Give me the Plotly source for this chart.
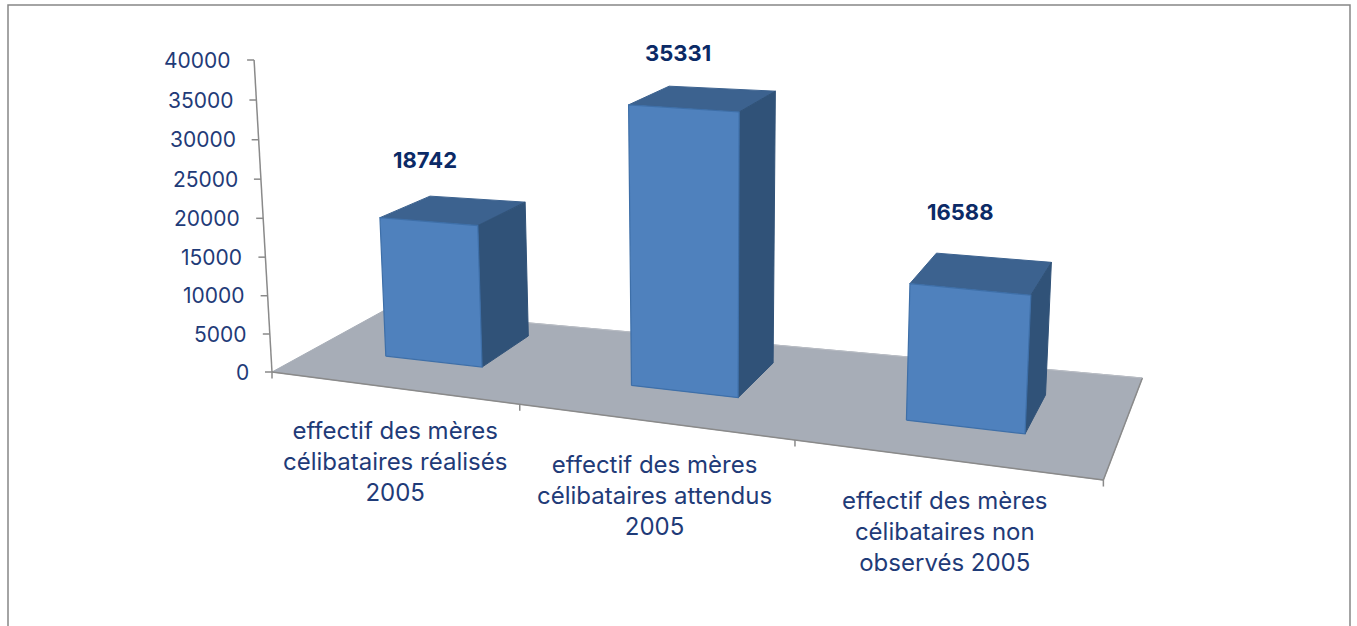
import numpy as np
import plotly.graph_objects as go

# ---- data
categories = ["effectif des mères<br>célibataires réalisés<br>2005",
              "effectif des mères<br>célibataires attendus<br>2005",
              "effectif des mères<br>célibataires non<br>observés 2005"]
values = [18742, 35331, 16588]
y_ticks = [0, 5000, 10000, 15000, 20000, 25000, 30000, 35000, 40000]

# ---- bar footprints on the floor plane (u along categories, w in depth)
u_left = [.121, .484, .803]
u_right = [.273, .616, .918]
w_front = [.360, .345, .314]
w_back = [.817, .775, .719]
bar_gain = [.99, 1.01, 1.0]
x_tick_u = [0.0, .383, .7126, 1.0]

# ---- camera: floor homography + vertical vanishing point
H = np.array([[482.6, 156.9, 272.0], [-43.7, -26.7, 372.0], [-.3161, .1140, 1.0]])
VZ = (710.0, 8000.0)
AXIS_PIXELS = 312.0
AXIS_BOW = .03


def floor(u, w):
    p = H @ np.array([u, w, 1.0])
    return p[0] / p[2], p[1] / p[2]


def bar_scale(u, w):
    return (7.656 + 1.07 * u - .9 * w) * 1e-3


def lift(x, y, h):
    return x + (x - VZ[0]) * h / (VZ[1] - y), y - h


def pt(u, w, v, gain=1.0):
    x, y = floor(u, w)
    return lift(x, y, v * bar_scale(u, w) * gain)


def axis_pt(v):
    x, y = floor(0, 0)
    t = v / y_ticks[-1]
    return lift(x, y, AXIS_PIXELS * t / (1 + AXIS_BOW * (1 - t)))


def poly(points, fill, line, width=1):
    xs = [p[0] for p in points] + [points[0][0]]
    ys = [p[1] for p in points] + [points[0][1]]
    return go.Scatter(x=xs, y=ys, mode="lines", fill="toself", fillcolor=fill,
                      line=dict(color=line, width=width), hoverinfo="skip", showlegend=False)


def seg(a, b, color="#8A8A8A", width=1.5):
    return go.Scatter(x=[a[0], b[0]], y=[a[1], b[1]], mode="lines",
                      line=dict(color=color, width=width), hoverinfo="skip", showlegend=False)


TXT = "#1F3B78"
LBL = "#0B2A66"
FONT = "Inter"
fig = go.Figure()

# floor
fig.add_trace(poly([floor(0, 0), floor(1, 0), floor(1, 1), floor(0, 1)], "#A7ADB7", "#A7ADB7"))
fig.add_trace(seg(floor(0, 0), floor(1, 0)))
fig.add_trace(seg(floor(1, 0), floor(1, 1)))
fig.add_trace(seg(floor(1, 1), floor(0, 1), "#B9BDC4", 1))

# x ticks
for u in x_tick_u:
    x, y = floor(u, 0)
    fig.add_trace(seg((x, y), (x, y + 6.5), width=1.5))

# value axis
fig.add_trace(seg(axis_pt(y_ticks[0]), axis_pt(y_ticks[-1])))
annotations = []
for t in y_ticks:
    x, y = axis_pt(t)
    fig.add_trace(seg((x - 7, y), (x, y)))
    annotations.append(dict(x=x - 21, y=y, text=str(t), showarrow=False, xanchor="right",
                            yanchor="middle", font=dict(size=21, color=TXT, family=FONT)))

# bars
label_dx = [-28, -24, -21]
label_dy = [-50, -45, -61]
for i, v in enumerate(values):
    ul, ur, wf, wb, g = u_left[i], u_right[i], w_front[i], w_back[i], bar_gain[i]
    fig.add_trace(poly([pt(ul, wf, v, g), pt(ur, wf, v, g), pt(ur, wb, v, g), pt(ul, wb, v, g)],
                       "#3C628F", "#3C628F"))
    fig.add_trace(poly([pt(ur, wf, 0), pt(ur, wb, 0), pt(ur, wb, v, g), pt(ur, wf, v, g)],
                       "#305278", "#305278"))
    fig.add_trace(poly([pt(ul, wf, 0), pt(ur, wf, 0), pt(ur, wf, v, g), pt(ul, wf, v, g)],
                       "#4F81BD", "#3E6FA8", 1.2))
    cx, cy = pt((ul + ur) / 2, (wf + wb) / 2, v, g)
    annotations.append(dict(x=cx + label_dx[i], y=cy + label_dy[i], text=f"<b>{v}</b>", showarrow=False,
                            font=dict(size=22, color=LBL, family=FONT)))

# category labels
cat_x = [395, 654, 945]
cat_y = [461, 495.5, 531]
for c, x, y in zip(categories, cat_x, cat_y):
    annotations.append(dict(x=x, y=y, text=c, showarrow=False, align="center", yanchor="middle",
                            font=dict(size=24, color=TXT, family=FONT)))

fig.update_layout(
    width=1357, height=626, autosize=False, margin=dict(l=0, r=0, t=0, b=0),
    paper_bgcolor="white", plot_bgcolor="white", showlegend=False,
    xaxis=dict(range=[0, 1357], visible=False, fixedrange=True),
    yaxis=dict(range=[626, 0], visible=False, fixedrange=True),
    annotations=annotations,
    shapes=[dict(type="path", xref="x", yref="y", path="M 8 626 L 8 5 L 1350 5 L 1350 626",
                 line=dict(color="#868686", width=1.5))],
)
fig.write_html("out.html", post_script="document.body.style.margin='0';document.body.style.overflow='hidden';",
               config={"displayModeBar": False})
